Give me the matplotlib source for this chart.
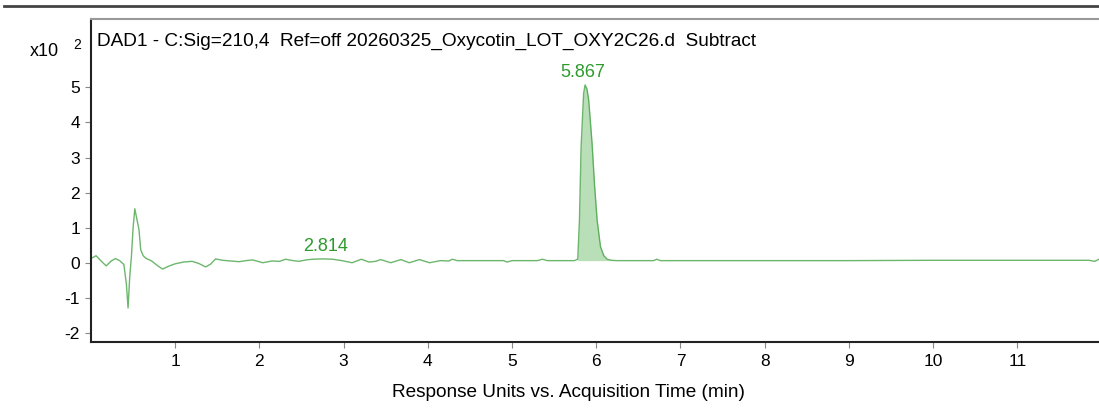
import numpy as np
import matplotlib
matplotlib.use("Agg")
import matplotlib.pyplot as plt
from matplotlib.lines import Line2D

plt.rcParams['font.family'] = ['Liberation Sans', 'DejaVu Sans']
plt.rcParams['axes.unicode_minus'] = False

# chromatogram, response in units of 10^2
time = [0.0, 0.06, 0.12, 0.18, 0.24, 0.29, 0.34, 0.39, 0.42, 0.44, 0.46, 0.48,
        0.50, 0.52, 0.54, 0.57, 0.59, 0.62, 0.65, 0.72, 0.80, 0.85, 0.92, 1.0,
        1.1, 1.2, 1.28, 1.36, 1.42, 1.48, 1.56, 1.66, 1.76, 1.84, 1.92, 2.04,
        2.15, 2.24, 2.31, 2.40, 2.47, 2.55, 2.63, 2.75, 2.87, 2.98, 3.10, 3.21,
        3.30, 3.38, 3.44, 3.56, 3.68, 3.78, 3.90, 4.02, 4.15, 4.25, 4.29, 4.35,
        4.5, 4.7, 4.9, 4.94, 5.0, 5.1, 5.3, 5.36, 5.42, 5.6, 5.74, 5.78, 5.80,
        5.82, 5.85, 5.867, 5.89, 5.91, 5.95, 5.98, 6.01, 6.05, 6.09, 6.13, 6.18,
        6.25, 6.5, 6.68, 6.72, 6.76, 7.0, 8.0, 9.0, 10.0, 11.0, 11.85, 11.92,
        11.97]
signal = [0.12, 0.2, 0.05, -0.09, 0.05, 0.12, 0.06, -0.05, -0.6, -1.29, -0.4,
          0.18, 1.0, 1.54, 1.3, 0.94, 0.37, 0.2, 0.13, 0.05, -0.1, -0.18, -0.1,
          -0.03, 0.02, 0.04, -0.02, -0.12, -0.04, 0.11, 0.07, 0.05, 0.03, 0.06,
          0.08, 0.0, 0.05, 0.04, 0.1, 0.06, 0.04, 0.08, 0.1, 0.11, 0.1, 0.06,
          0.0, 0.1, 0.02, 0.04, 0.09, 0.0, 0.09, 0.0, 0.09, 0.0, 0.06, 0.05,
          0.1, 0.06, 0.06, 0.06, 0.06, 0.02, 0.06, 0.06, 0.06, 0.1, 0.06, 0.06,
          0.06, 0.1, 1.2, 3.3, 4.83, 5.07, 4.95, 4.64, 3.41, 2.2, 1.22, 0.46,
          0.2, 0.1, 0.07, 0.06, 0.06, 0.06, 0.1, 0.06, 0.06, 0.06, 0.06, 0.07,
          0.07, 0.07, 0.04, 0.1]

peak_labels = ["2.814", "5.867"]
peak_rt = [2.814, 5.867]
peak_fill = (5.78, 6.25)

title = "DAD1 - C:Sig=210,4  Ref=off 20260325_Oxycotin_LOT_OXY2C26.d  Subtract"
green = "#3c9e3c"

fig = plt.figure(figsize=(10.99, 4.08), dpi=100)
ax = fig.add_axes([91 / 1099, 66 / 408, 1 - 91 / 1099, 323 / 408])

t = np.array(time)
s = np.array(signal)
ax.plot(t, s, color=green, lw=1.0, alpha=0.75)
mask = (t >= peak_fill[0]) & (t <= peak_fill[1])
ax.fill_between(t[mask], s[mask], 0.06, color="#a8d8a8", alpha=0.8, lw=0)

for lab, rt in zip(peak_labels, peak_rt):
    h = np.interp(rt, t, s)
    if lab == "2.814":
        h = 0.1
    ax.annotate(lab, (rt - 0.03, h), xytext=(0, 3), textcoords="offset points",
                ha="center", va="bottom", color="#2e9a2e", fontsize=13)

ax.set_xlim(0, 11.97)
ax.set_ylim(-2.26, 6.95)
ax.set_xticks(range(1, 12))
ax.set_yticks(range(-2, 6))
ax.tick_params(axis="both", direction="out", length=4, width=0.8,
               color="#888888", labelsize=12.5)
ax.tick_params(axis="y", pad=4)
ax.tick_params(axis="x", pad=5)

for side in ["left", "bottom"]:
    ax.spines[side].set_linewidth(1.5)
    ax.spines[side].set_color("#222222")
ax.spines["top"].set_color("#999999")
ax.spines["top"].set_linewidth(1.5)
ax.spines["right"].set_visible(False)

ax.text(0.006, 0.93, title, transform=ax.transAxes, fontsize=13.7,
        ha="left", va="center")
ax.set_xlabel("Response Units vs. Acquisition Time (min)", fontsize=13.7,
              labelpad=10)
ax.xaxis.set_label_coords(0.474, -0.13)

fig.text(44 / 1099, 1 - 51 / 408, "x10", fontsize=13, ha="center",
         va="center")
fig.text(77 / 1099, 1 - 45 / 408, "2", fontsize=10, ha="center", va="center")

fig.add_artist(Line2D([4 / 1099, 1], [1 - 6 / 408, 1 - 6 / 408],
                      color="#444444", lw=2))

fig.savefig("out.png", dpi=100)
